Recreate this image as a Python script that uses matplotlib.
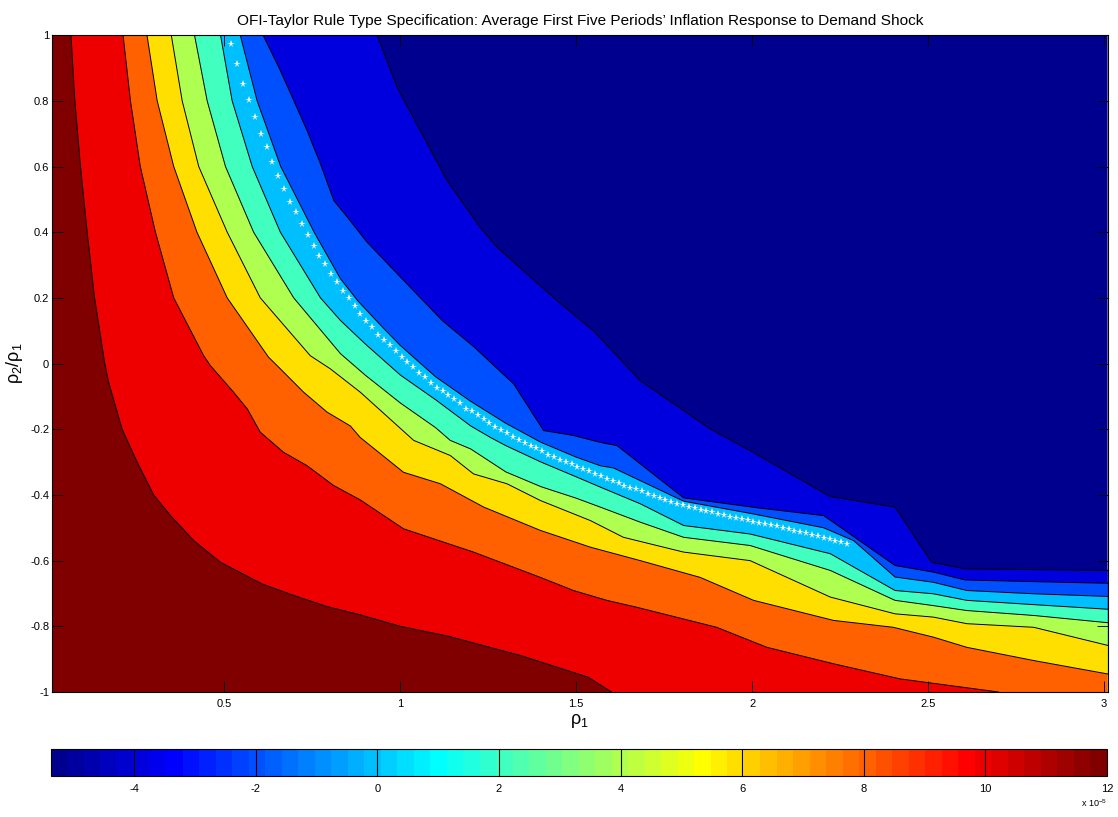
import numpy as np
import matplotlib
matplotlib.use("Agg")
import matplotlib.pyplot as plt
from matplotlib.colors import ListedColormap, Normalize
from matplotlib.cm import ScalarMappable

plt.rcParams['font.family'] = ['Liberation Sans', 'DejaVu Sans']
plt.rcParams['axes.unicode_minus'] = False
plt.rcParams['mathtext.fontset'] = 'custom'
plt.rcParams['mathtext.rm'] = 'Liberation Sans'
plt.rcParams['mathtext.it'] = 'Liberation Sans'

# contour boundaries (rho1, rho2/rho1) for each level, in units of 1e-5
c_m4_x = [0.934, 0.991, 1.057, 1.133, 1.227, 1.275, 1.360, 1.445, 1.549, 1.682, 1.881, 1.994, 2.222, 2.406, 2.510, 2.605, 3.010]
c_m4_y = [1.0, 0.841, 0.709, 0.557, 0.415, 0.354, 0.273, 0.192, 0.100, -0.052, -0.199, -0.265, -0.405, -0.437, -0.605, -0.625, -0.630]

c_m2_x = [0.610, 0.659, 0.697, 0.735, 0.773, 0.811, 0.850, 0.905, 1.030, 1.120, 1.210, 1.322, 1.407, 1.492, 1.568, 1.616, 1.805, 2.013, 2.203, 2.406, 2.515, 2.605, 2.800, 3.010]
c_m2_y = [1.0, 0.892, 0.801, 0.709, 0.608, 0.496, 0.445, 0.370, 0.230, 0.130, 0.050, -0.062, -0.204, -0.219, -0.240, -0.250, -0.409, -0.439, -0.463, -0.615, -0.635, -0.659, -0.664, -0.669]

c_0_x = [0.545, 0.593, 0.660, 0.755, 0.830, 0.880, 0.950, 1.000, 1.100, 1.200, 1.300, 1.400, 1.500, 1.568, 1.606, 1.805, 1.994, 2.203, 2.288, 2.406, 2.515, 2.610, 2.800, 3.010]
c_0_y = [1.0, 0.80, 0.60, 0.40, 0.258, 0.19, 0.11, 0.055, -0.04, -0.115, -0.182, -0.24, -0.285, -0.311, -0.318, -0.419, -0.456, -0.500, -0.539, -0.650, -0.666, -0.691, -0.701, -0.709]

c_2_x = [0.489, 0.522, 0.579, 0.659, 0.773, 0.830, 0.900, 1.000, 1.100, 1.200, 1.256, 1.300, 1.400, 1.500, 1.568, 1.682, 1.805, 1.994, 2.222, 2.406, 2.515, 2.610, 2.800, 3.010]
c_2_y = [1.0, 0.8, 0.6, 0.4, 0.2, 0.131, 0.06, -0.035, -0.11, -0.19, -0.225, -0.25, -0.30, -0.345, -0.376, -0.427, -0.493, -0.519, -0.579, -0.691, -0.701, -0.721, -0.734, -0.748]

c_4_x = [0.415, 0.451, 0.503, 0.583, 0.697, 0.830, 0.900, 1.000, 1.100, 1.142, 1.200, 1.300, 1.400, 1.500, 1.568, 1.682, 1.805, 1.994, 2.222, 2.406, 2.515, 2.610, 2.800, 3.010]
c_4_y = [1.0, 0.8, 0.6, 0.4, 0.2, 0.03, -0.035, -0.12, -0.195, -0.234, -0.26, -0.33, -0.375, -0.41, -0.437, -0.483, -0.529, -0.554, -0.630, -0.721, -0.737, -0.752, -0.767, -0.789]

c_6_x = [0.349, 0.380, 0.427, 0.508, 0.602, 0.744, 0.801, 0.886, 1.038, 1.142, 1.208, 1.303, 1.398, 1.540, 1.634, 1.805, 1.994, 2.222, 2.406, 2.515, 2.610, 2.800, 3.010]
c_6_y = [1.0, 0.8, 0.6, 0.4, 0.2, 0.024, -0.016, -0.087, -0.234, -0.28, -0.336, -0.366, -0.417, -0.478, -0.529, -0.574, -0.600, -0.711, -0.762, -0.772, -0.792, -0.803, -0.858]

c_8_x = [0.280, 0.309, 0.356, 0.422, 0.508, 0.625, 0.659, 0.725, 0.792, 0.858, 0.886, 1.009, 1.114, 1.237, 1.398, 1.540, 1.682, 1.852, 2.004, 2.231, 2.401, 2.515, 2.610, 2.799, 3.010]
c_8_y = [1.0, 0.8, 0.6, 0.4, 0.2, 0.02, -0.016, -0.087, -0.148, -0.19, -0.225, -0.331, -0.366, -0.437, -0.508, -0.559, -0.60, -0.651, -0.721, -0.782, -0.803, -0.833, -0.864, -0.904, -0.945]

c_10_x = [0.212, 0.233, 0.261, 0.304, 0.356, 0.441, 0.460, 0.526, 0.565, 0.602, 0.668, 0.735, 0.810, 0.886, 1.009, 1.208, 1.398, 1.492, 1.587, 1.672, 1.899, 2.042, 2.231, 2.420, 2.700]
c_10_y = [1.0, 0.8, 0.6, 0.4, 0.2, 0.024, -0.006, -0.087, -0.138, -0.209, -0.270, -0.311, -0.371, -0.415, -0.503, -0.574, -0.651, -0.691, -0.721, -0.742, -0.803, -0.864, -0.914, -0.960, -1.0]

c_12_x = [0.064, 0.075, 0.091, 0.110, 0.131, 0.160, 0.171, 0.209, 0.252, 0.299, 0.347, 0.413, 0.489, 0.607, 0.697, 0.792, 0.886, 1.000, 1.136, 1.345, 1.534, 1.600]
c_12_y = [1.0, 0.8, 0.6, 0.4, 0.2, 0.0, -0.057, -0.199, -0.300, -0.400, -0.463, -0.539, -0.605, -0.671, -0.706, -0.740, -0.765, -0.800, -0.830, -0.890, -0.955, -1.0]

# zero-response locus (white stars), rho1 step 1/60 from 0.52
star_x0, star_dx = 0.52, 1.0 / 60
star_y = [0.973, 0.912, 0.851, 0.803, 0.752, 0.699, 0.658, 0.613, 0.572, 0.532,
          0.491, 0.461, 0.425, 0.390, 0.359, 0.329, 0.302, 0.273, 0.247, 0.222,
          0.200, 0.175, 0.152, 0.131, 0.110, 0.088, 0.071, 0.056, 0.039, 0.020,
          0.004, -0.010, -0.030, -0.042, -0.060, -0.073, -0.085, -0.097, -0.109, -0.121,
          -0.137, -0.145, -0.158, -0.170, -0.182, -0.194, -0.202, -0.212, -0.224, -0.232,
          -0.241, -0.251, -0.258, -0.267, -0.277, -0.285, -0.293, -0.300, -0.307, -0.314,
          -0.322, -0.328, -0.336, -0.343, -0.351, -0.358, -0.365, -0.372, -0.378, -0.383,
          -0.389, -0.396, -0.403, -0.410, -0.416, -0.422, -0.427, -0.432, -0.437, -0.441,
          -0.445, -0.449, -0.453, -0.457, -0.461, -0.466, -0.469, -0.473, -0.477, -0.481,
          -0.484, -0.488, -0.492, -0.496, -0.501, -0.505, -0.509, -0.513, -0.517, -0.521,
          -0.525, -0.530, -0.534, -0.539, -0.544, -0.549]
star_x = star_x0 + star_dx * np.arange(len(star_y))

cmin, cmax = -5.37, 12.0
cbar_ticks = [-4, -2, 0, 2, 4, 6, 8, 10, 12]


def matlab_jet(n=64):
    m = int(np.ceil(n / 4))
    u = np.concatenate([np.arange(1, m + 1) / m, np.ones(m - 1), np.arange(m, 0, -1) / m])
    g = int(np.ceil(m / 2)) - (1 if n % 4 == 1 else 0) + np.arange(1, len(u) + 1)
    r = g + m
    b = g - m
    J = np.zeros((n, 3))
    J[r[r <= n] - 1, 0] = u[r <= n]
    J[g[g <= n] - 1, 1] = u[g <= n]
    J[b[b >= 1] - 1, 2] = u[b >= 1]
    return ListedColormap(J)


cmap = matlab_jet(64)
norm = Normalize(vmin=cmin, vmax=cmax)

boundaries = [(-4, c_m4_x, c_m4_y), (-2, c_m2_x, c_m2_y), (0, c_0_x, c_0_y),
              (2, c_2_x, c_2_y), (4, c_4_x, c_4_y), (6, c_6_x, c_6_y),
              (8, c_8_x, c_8_y), (10, c_10_x, c_10_y), (12, c_12_x, c_12_y)]

fig = plt.figure(figsize=(11.18, 8.17), dpi=100)
ax = fig.add_axes([0.0465, 0.153, 0.9442, 0.804])

# filled bands: each level paints everything below its boundary
xx = np.linspace(0.01, 3.01, 3001)
ax.fill_between(xx, -5, 5, color=cmap(0), lw=0)
for lev, bx, by in boundaries:
    yb = np.interp(xx, bx, by, left=5.0, right=-5.0)
    ax.fill_between(xx, -5, yb, color=cmap(norm(lev)), lw=0)
for lev, bx, by in boundaries:
    ax.plot(bx, by, color='k', lw=0.7)

ax.plot(star_x, star_y, '*', color='white', ms=5.5, mew=0)

ax.set_xlim(0.01, 3.01)
ax.set_ylim(-1, 1)
ax.set_xticks([0.5, 1, 1.5, 2, 2.5, 3])
ax.set_xticklabels(['0.5', '1', '1.5', '2', '2.5', '3'])
ax.set_yticks(np.round(np.arange(-1, 1.01, 0.2), 1))
ax.set_yticklabels(['-1', '-0.8', '-0.6', '-0.4', '-0.2', '0', '0.2', '0.4', '0.6', '0.8', '1'])
ax.tick_params(direction='in', top=True, right=True, length=8, width=0.6, labelsize=8)
ax.tick_params(axis='x', pad=5)
ax.tick_params(axis='y', pad=2)
for s in ax.spines.values():
    s.set_linewidth(0.8)

ax.set_title("OFI-Taylor Rule Type Specification: Average First Five Periods\u2019 Inflation Response to Demand Shock",
             fontsize=11.1, pad=7)
ax.set_xlabel('ρ$_1$', fontsize=13, labelpad=2)
ax.set_ylabel('ρ$_2$/ρ$_1$', fontsize=13, labelpad=4)

cax = fig.add_axes([0.0456, 0.0502, 0.9445, 0.033])
cb = fig.colorbar(ScalarMappable(norm=norm, cmap=cmap), cax=cax, orientation='horizontal', ticks=cbar_ticks)
cb.ax.tick_params(length=0, labelsize=8, pad=6)
cb.ax.set_xticklabels([str(t) for t in cbar_ticks])
cb.outline.set_linewidth(0.8)
for t in cbar_ticks[:-1]:
    cax.axvline(t, color='k', lw=0.8)
fig.text(0.990, 0.012, 'x 10$^{-5}$', fontsize=6.5, ha='right')

fig.savefig('out.png', dpi=100)
